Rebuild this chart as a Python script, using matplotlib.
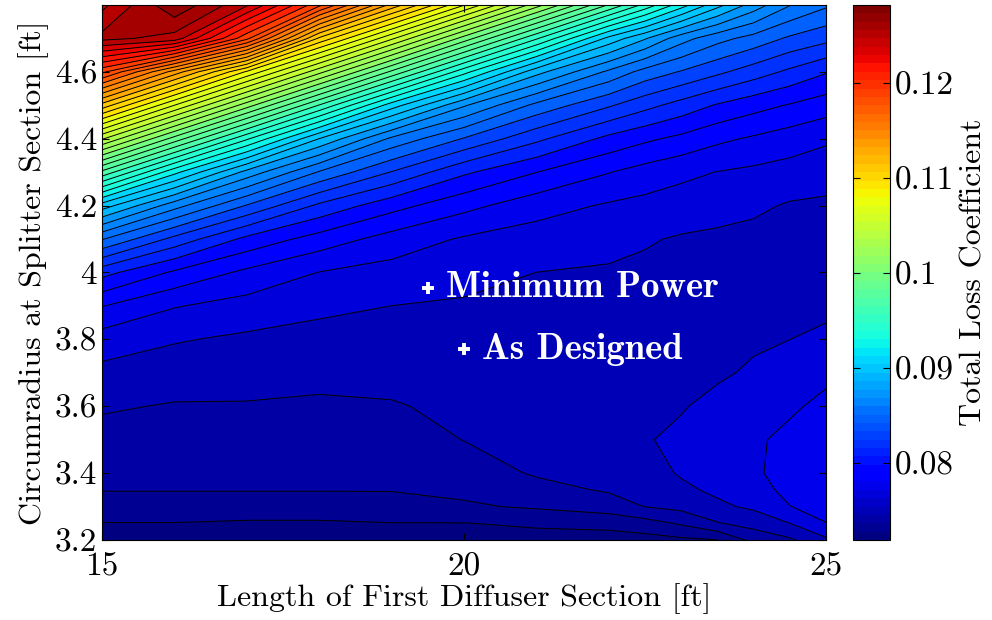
import matplotlib
matplotlib.use("Agg")
import matplotlib.pyplot as plt
import matplotlib.colors as mcolors
import matplotlib.cm as cm
import numpy as np

plt.rcParams['font.family'] = 'serif'
plt.rcParams['font.serif'] = ['cmr10']
plt.rcParams['mathtext.fontset'] = 'cm'
plt.rcParams['axes.formatter.use_mathtext'] = True

# grid
length_ft = [15, 16, 17, 18, 19, 20, 21, 22, 22.5, 23, 23.5, 24, 24.5, 25]
radius_ft = [3.2, 3.25, 3.3, 3.35, 3.4, 3.5, 3.6, 3.7, 3.8, 3.9, 4.0,
             4.1, 4.2, 4.3, 4.4, 4.5, 4.6, 4.7, 4.8]

# total loss coefficient, one list per length (bottom -> top in radius)
loss_15 = [0.0724, 0.0730, 0.0736, 0.0742, 0.0744, 0.0749, 0.0754, 0.0761, 0.0770, 0.0787,
           0.0813, 0.0855, 0.0905, 0.0975, 0.1047, 0.1120, 0.1195, 0.1263, 0.1245]
loss_16 = [0.0723, 0.0730, 0.0736, 0.0742, 0.0744, 0.0748, 0.0752, 0.0758, 0.0765, 0.0776,
           0.0796, 0.0828, 0.0870, 0.0925, 0.0996, 0.1068, 0.1142, 0.1255, 0.1280]
loss_17 = [0.0723, 0.0729, 0.0736, 0.0742, 0.0744, 0.0748, 0.0752, 0.0757, 0.0762, 0.0771,
           0.0784, 0.0806, 0.0842, 0.0884, 0.0946, 0.1017, 0.1089, 0.1195, 0.1250]
loss_18 = [0.0723, 0.0729, 0.0736, 0.0742, 0.0744, 0.0748, 0.0751, 0.0756, 0.0761, 0.0766,
           0.0775, 0.0793, 0.0818, 0.0853, 0.0899, 0.0966, 0.1038, 0.1111, 0.1195]
loss_19 = [0.0724, 0.0730, 0.0737, 0.0742, 0.0744, 0.0748, 0.0752, 0.0756, 0.0760, 0.0764,
           0.0771, 0.0782, 0.0802, 0.0831, 0.0863, 0.0916, 0.0987, 0.1059, 0.1132]
loss_20 = [0.0725, 0.0730, 0.0740, 0.0744, 0.0747, 0.0753, 0.0755, 0.0758, 0.0760, 0.0763,
           0.0767, 0.0774, 0.0790, 0.0811, 0.0842, 0.0878, 0.0937, 0.1007, 0.1080]
loss_21 = [0.0726, 0.0732, 0.0743, 0.0749, 0.0754, 0.0756, 0.0757, 0.0759, 0.0760, 0.0762,
           0.0764, 0.0770, 0.0780, 0.0798, 0.0823, 0.0851, 0.0892, 0.0957, 0.1028]
loss_22 = [0.0725, 0.0734, 0.0747, 0.0754, 0.0757, 0.0760, 0.0760, 0.0760, 0.0761, 0.0762,
           0.0763, 0.0767, 0.0774, 0.0787, 0.0806, 0.0833, 0.0863, 0.0907, 0.0977]
loss_22h = [0.0726, 0.0737, 0.0753, 0.0757, 0.0760, 0.0763, 0.0762, 0.0761, 0.0761, 0.0761,
            0.0762, 0.0765, 0.0772, 0.0782, 0.0800, 0.0824, 0.0850, 0.0889, 0.0952]
loss_23 = [0.0728, 0.0743, 0.0756, 0.0762, 0.0765, 0.0767, 0.0763, 0.0761, 0.0760, 0.0760,
           0.0761, 0.0763, 0.0770, 0.0778, 0.0795, 0.0816, 0.0842, 0.0870, 0.0927]
loss_23h = [0.0730, 0.0752, 0.0762, 0.0766, 0.0769, 0.0771, 0.0768, 0.0762, 0.0760, 0.0759,
            0.0760, 0.0762, 0.0768, 0.0775, 0.0789, 0.0808, 0.0834, 0.0858, 0.0903]
loss_24 = [0.0745, 0.0757, 0.0766, 0.0770, 0.0773, 0.0773, 0.0770, 0.0766, 0.0762, 0.0760,
           0.0759, 0.0761, 0.0766, 0.0773, 0.0785, 0.0802, 0.0826, 0.0850, 0.0883]
loss_24h = [0.0751, 0.0764, 0.0775, 0.0779, 0.0781, 0.0779, 0.0773, 0.0769, 0.0764, 0.0761,
            0.0759, 0.0760, 0.0763, 0.0771, 0.0781, 0.0797, 0.0818, 0.0841, 0.0866]
loss_25 = [0.0762, 0.0775, 0.0780, 0.0783, 0.0784, 0.0783, 0.0779, 0.0772, 0.0766, 0.0762,
           0.0760, 0.0760, 0.0762, 0.0769, 0.0777, 0.0792, 0.0810, 0.0835, 0.0856]

loss_min, loss_max = 0.0719, 0.1282
n_levels = 50

points = ['Minimum Power', 'As Designed']
points_x = [19.5, 20.0]
points_y = [3.955, 3.77]

cbar_ticks = [0.08, 0.09, 0.10, 0.11, 0.12]
cbar_ticklabels = ['0.08', '0.09', '0.1', '0.11', '0.12']
y_ticks = [3.2, 3.4, 3.6, 3.8, 4.0, 4.2, 4.4, 4.6]
y_ticklabels = ['3.2', '3.4', '3.6', '3.8', '4', '4.2', '4.4', '4.6']
x_ticks = [15, 20, 25]

Z = np.array([loss_15, loss_16, loss_17, loss_18, loss_19, loss_20, loss_21, loss_22,
              loss_22h, loss_23, loss_23h, loss_24, loss_24h, loss_25]).T
X, Y = np.meshgrid(length_ft, radius_ft)

jet64 = mcolors.ListedColormap(plt.get_cmap('jet')(np.linspace(0, 1, 64)))
norm = mcolors.Normalize(loss_min, loss_max)
levels = np.linspace(loss_min, loss_max, n_levels + 1)
fill_colors = [jet64(norm(lv)) for lv in levels[:-1]]

fig = plt.figure(figsize=(9.92, 6.2), dpi=100)
ax = fig.add_axes([0.1028, 0.129, 0.7298, 0.863])

ax.contourf(X, Y, Z, levels=levels, colors=fill_colors)
ax.contour(X, Y, Z, levels=levels, colors='k', linewidths=0.7)

for name, px, py in zip(points, points_x, points_y):
    ax.plot(px, py, marker='+', color='white', markersize=8, markeredgewidth=2.8)
    ax.text(px + 0.25, py, name, color='white', fontsize=26.5, family='cmb10',
            va='center', ha='left')

ax.set_xlim(15, 25)
ax.set_ylim(3.2, 4.8)
ax.set_xticks(x_ticks)
ax.set_xticklabels([str(t) for t in x_ticks])
ax.set_yticks(y_ticks)
ax.set_yticklabels(y_ticklabels)
ax.tick_params(direction='in', top=True, right=True, length=5, labelsize=24)
ax.tick_params(axis='x', pad=9)
ax.set_xlabel('Length of First Diffuser Section [ft]', fontsize=23, labelpad=1)
ax.set_ylabel('Circumradius at Splitter Section [ft]', fontsize=23, labelpad=4)

cax = fig.add_axes([0.860, 0.129, 0.0373, 0.863])
cb = fig.colorbar(cm.ScalarMappable(norm=norm, cmap=jet64), cax=cax)
cb.set_ticks(cbar_ticks)
cb.set_ticklabels(cbar_ticklabels)
cax.tick_params(direction='in', left=True, right=True, length=5, labelsize=24)
cb.set_label('Total Loss Coefficient', fontsize=23, labelpad=4)
cb.outline.set_linewidth(0.8)

fig.savefig('out.png', dpi=100)
